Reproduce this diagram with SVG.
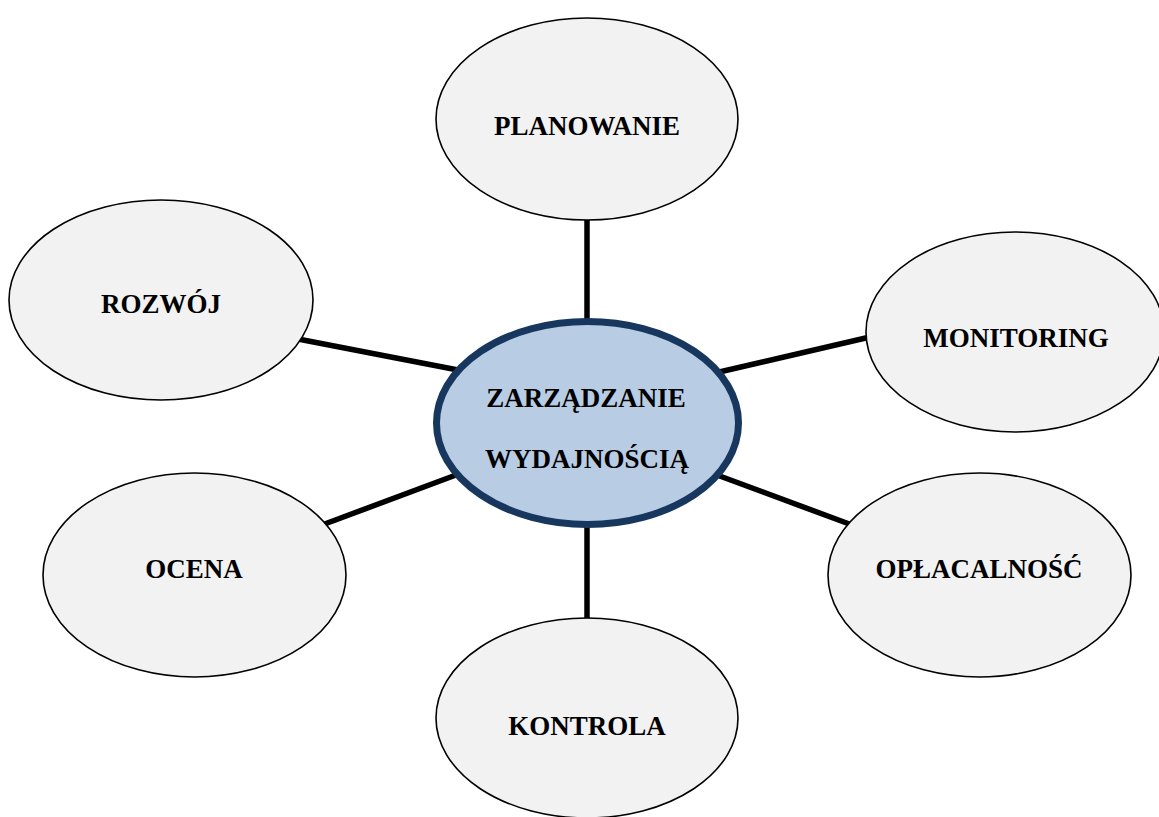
<svg xmlns="http://www.w3.org/2000/svg" width="1159" height="817" viewBox="0 0 1159 817">
<style>
.n{fill:#f2f2f2;stroke:#000;stroke-width:1.6}
.c{fill:#b8cce4;stroke:#17375e;stroke-width:7}
.t{font-family:"Liberation Serif","Times New Roman",serif;font-weight:bold;font-size:27px;fill:#000;text-anchor:middle}
.l{stroke:#000;stroke-width:5.5;fill:none}
</style>
<rect width="1159" height="817" fill="#fff"/>
<g id="connectors">
<line class="l" x1="587" y1="215" x2="587" y2="325"/>
<line class="l" x1="587" y1="520" x2="587" y2="622"/>
<line class="l" x1="298" y1="339" x2="458" y2="370"/>
<line class="l" x1="322" y1="525" x2="456" y2="475"/>
<line class="l" x1="715" y1="373" x2="870" y2="337"/>
<line class="l" x1="717" y1="475" x2="852" y2="525"/>
</g>
<g id="planowanie"><ellipse class="n" cx="587" cy="119" rx="151" ry="101"/><text class="t" x="587" y="135">PLANOWANIE</text></g>
<g id="rozwoj"><ellipse class="n" cx="161" cy="300" rx="152" ry="100"/><text class="t" x="161" y="313">ROZWÓJ</text></g>
<g id="monitoring"><ellipse class="n" cx="1015" cy="332" rx="149" ry="100"/><text class="t" x="1016" y="347">MONITORING</text></g>
<g id="ocena"><ellipse class="n" cx="194.5" cy="575" rx="151.5" ry="102"/><text class="t" x="194" y="578">OCENA</text></g>
<g id="oplacalnosc"><ellipse class="n" cx="979.5" cy="575" rx="151.5" ry="102"/><text class="t" x="979" y="578">OPŁACALNOŚĆ</text></g>
<g id="kontrola"><ellipse class="n" cx="587" cy="718" rx="151" ry="100"/><text class="t" x="587" y="735">KONTROLA</text></g>
<g id="zarzadzanie"><ellipse class="c" cx="587.5" cy="423" rx="151" ry="101.5"/><text class="t" x="586" y="407">ZARZĄDZANIE</text><text class="t" x="587" y="468">WYDAJNOŚCIĄ</text></g>
</svg>
